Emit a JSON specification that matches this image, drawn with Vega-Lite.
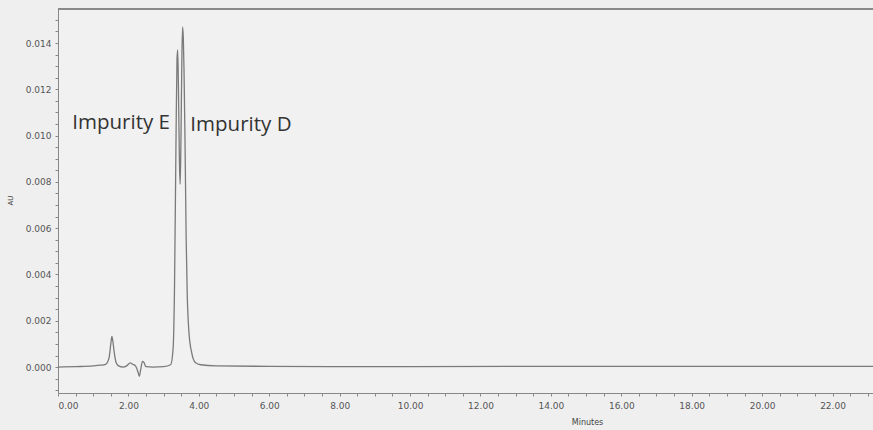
{
  "$schema": "https://vega.github.io/schema/vega-lite/v6.json",
  "width": 815,
  "height": 384,
  "autosize": {"type": "none"},
  "padding": {"left": 58, "top": 9, "right": 0, "bottom": 37},
  "background": "#efefef",
  "config": {"view": {"stroke": null, "fill": "#f1f1f1"}},
  "datasets": {
    "trace": [
      {"t": 0.0, "au": 0.0},
      {"t": 0.5, "au": 0.00002},
      {"t": 1.0, "au": 0.00005},
      {"t": 1.2, "au": 0.00008},
      {"t": 1.35, "au": 0.00012},
      {"t": 1.45, "au": 0.0004},
      {"t": 1.5, "au": 0.001},
      {"t": 1.53, "au": 0.00132},
      {"t": 1.56, "au": 0.0011},
      {"t": 1.6, "au": 0.0006},
      {"t": 1.65, "au": 0.0002},
      {"t": 1.72, "au": 0.00005},
      {"t": 1.85, "au": 0.0},
      {"t": 1.95, "au": 0.00005},
      {"t": 2.05, "au": 0.00018},
      {"t": 2.12, "au": 0.00012},
      {"t": 2.2, "au": 0.00005},
      {"t": 2.27, "au": -0.0002},
      {"t": 2.31, "au": -0.0004},
      {"t": 2.35, "au": -0.0001},
      {"t": 2.4, "au": 0.00025},
      {"t": 2.44, "au": 0.0002},
      {"t": 2.5, "au": 0.00002},
      {"t": 2.7, "au": 0.0},
      {"t": 3.0, "au": 0.00002},
      {"t": 3.2, "au": 0.0001},
      {"t": 3.27, "au": 0.0008},
      {"t": 3.31, "au": 0.0035},
      {"t": 3.35, "au": 0.0095},
      {"t": 3.38, "au": 0.0133},
      {"t": 3.4, "au": 0.0137},
      {"t": 3.42, "au": 0.0122},
      {"t": 3.45, "au": 0.0088},
      {"t": 3.47, "au": 0.0079},
      {"t": 3.49, "au": 0.0095},
      {"t": 3.52, "au": 0.0135},
      {"t": 3.54, "au": 0.0147},
      {"t": 3.56, "au": 0.0142},
      {"t": 3.58, "au": 0.0128},
      {"t": 3.61, "au": 0.0095},
      {"t": 3.64, "au": 0.0056},
      {"t": 3.67, "au": 0.0032},
      {"t": 3.72, "au": 0.0015},
      {"t": 3.8, "au": 0.0006},
      {"t": 3.9, "au": 0.0002},
      {"t": 4.05, "au": 0.0001},
      {"t": 4.5, "au": 0.00005},
      {"t": 6.0, "au": 0.00003},
      {"t": 10.0, "au": 0.00002},
      {"t": 14.0, "au": 0.00003},
      {"t": 18.0, "au": 0.00003},
      {"t": 23.15, "au": 0.00003}
    ],
    "labels": [
      {"t": 3.18, "au": 0.01055, "txt": "Impurity E", "side": "right"},
      {"t": 3.76, "au": 0.01045, "txt": "Impurity D", "side": "left"}
    ]
  },
  "layer": [
    {
      "data": {"name": "trace"},
      "mark": {"type": "line", "color": "#7a7a7a", "strokeWidth": 1.3, "interpolate": "monotone", "clip": true},
      "encoding": {
        "x": {
          "field": "t", "type": "quantitative",
          "scale": {"domain": [0, 23.15], "nice": false, "zero": false},
          "axis": {
            "title": "Minutes", "titleFontSize": 8, "titleFont": "DejaVu Sans", "titleFontWeight": "normal", "titleColor": "#444",
            "titleX": 529, "titleY": 25,
            "tickCount": 500,
            "values": [0,0.5,1,1.5,2,2.5,3,3.5,4,4.5,5,5.5,6,6.5,7,7.5,8,8.5,9,9.5,10,10.5,11,11.5,12,12.5,13,13.5,14,14.5,15,15.5,16,16.5,17,17.5,18,18.5,19,19.5,20,20.5,21,21.5,22,22.5,23],
            "labelExpr": "round(datum.value*2) % 4 === 0 ? format(datum.value, '.2f') : ''",
            "labelOverlap": false,
            "labelFont": "DejaVu Sans", "labelFontSize": 9, "labelColor": "#555", "labelPadding": 5,
            "tickSize": 3, "tickColor": "#888", "domainColor": "#888", "grid": false
          }
        },
        "y": {
          "field": "au", "type": "quantitative",
          "scale": {"domain": [-0.00112, 0.01547], "nice": false, "zero": false},
          "axis": {
            "title": "AU", "titleFontSize": 7, "titleFont": "DejaVu Sans", "titleFontWeight": "normal", "titleColor": "#444",
            "titleX": -45, "titleY": 191,
            "tickCount": 500,
            "values": [-0.001,-0.0005,0,0.0005,0.001,0.0015,0.002,0.0025,0.003,0.0035,0.004,0.0045,0.005,0.0055,0.006,0.0065,0.007,0.0075,0.008,0.0085,0.009,0.0095,0.01,0.0105,0.011,0.0115,0.012,0.0125,0.013,0.0135,0.014,0.0145,0.015],
            "labelExpr": "abs(round(datum.value*10000)) % 20 === 0 ? format(datum.value, '.3f') : ''",
            "labelOverlap": false,
            "labelFont": "DejaVu Sans", "labelFontSize": 9, "labelColor": "#555", "labelPadding": 4,
            "tickSize": 3, "tickColor": "#888", "domainColor": "#888", "grid": false
          }
        }
      }
    },
    {
      "data": {"name": "labels"},
      "transform": [{"filter": "datum.side === 'right'"}],
      "mark": {"type": "text", "align": "right", "baseline": "middle", "font": "Open Sans", "fontSize": 20.5, "color": "#333333"},
      "encoding": {
        "x": {"field": "t", "type": "quantitative"},
        "y": {"field": "au", "type": "quantitative"},
        "text": {"field": "txt"}
      }
    },
    {
      "data": {"name": "labels"},
      "transform": [{"filter": "datum.side === 'left'"}],
      "mark": {"type": "text", "align": "left", "baseline": "middle", "font": "Open Sans", "fontSize": 20.5, "color": "#333333"},
      "encoding": {
        "x": {"field": "t", "type": "quantitative"},
        "y": {"field": "au", "type": "quantitative"},
        "text": {"field": "txt"}
      }
    },
    {
      "data": {"values": [{"top": 0.01547}]},
      "mark": {"type": "rule", "color": "#8a8a8a", "strokeWidth": 2},
      "encoding": {
        "y": {"field": "top", "type": "quantitative"}
      }
    }
  ]
}
